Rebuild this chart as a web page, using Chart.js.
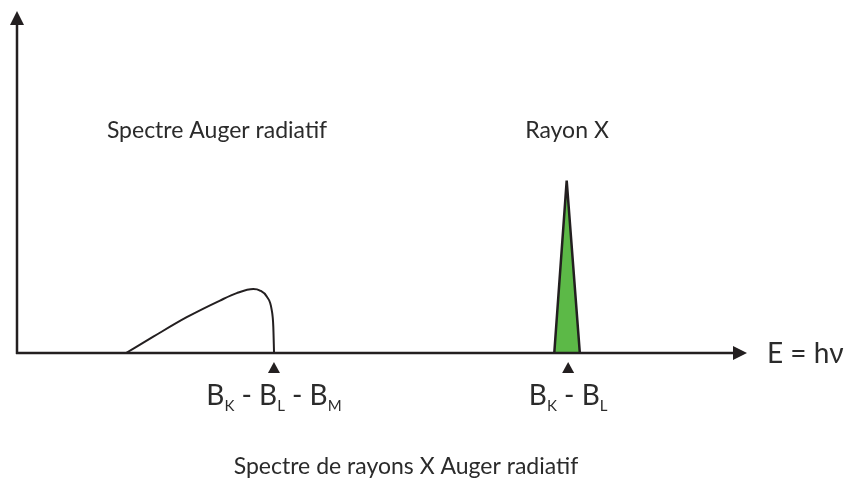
<!DOCTYPE html>
<html>
<head>
<meta charset="utf-8">
<script src="https://cdn.jsdelivr.net/npm/chart.js@4"></script>
<style>
  html, body { margin: 0; padding: 0; background: #ffffff; }
  #wrap { width: 857px; height: 486px; }
</style>
</head>
<body>
<div id="wrap"><canvas id="chart" width="857" height="486"></canvas></div>
<script>
// energie (unites arbitraires) et intensite
const augerEnergy = [14.93, 18.67, 23.25, 27.81, 30.1, 32.37, 33.29, 34.21, 34.89, 35.11, 35.21];
const augerIntensity = [0, 4.78, 10.47, 15.34, 17.5, 18.68, 18.27, 16.51, 12.61, 7.71, 0];
const xrayEnergy = [73.6, 75.3, 77.1];
const xrayIntensity = [0, 50.4, 0];
const markerEnergy = [35.2, 75.5];
const markerLabels = [
    [["B", ""], ["K", "sub"], [" - B", ""], ["L", "sub"], [" - B", ""], ["M", "sub"]],
    [["B", ""], ["K", "sub"], [" - B", ""], ["L", "sub"]],
];
const titleAuger = "Spectre Auger radiatif";
const titleXray = "Rayon X";
const axisLabel = "E = h\u03bd";
const caption = "Spectre de rayons X Auger radiatif";

const ink = "#231f20";
const textColor = "#2b2b2b";
const fontFamily = "Lato, 'Open Sans', sans-serif";

function toPoints(xs, ys) {
    return xs.map((x, i) => ({ x: x, y: ys[i] }));
}

function drawRich(ctx, parts, cx, baseline, size) {
    const subSize = Math.round(size * 0.55);
    let total = 0;
    parts.forEach(([t, kind]) => {
        ctx.font = (kind === "sub" ? subSize : size) + "px " + fontFamily;
        total += ctx.measureText(t).width;
    });
    let x = cx - total / 2;
    ctx.textAlign = "left";
    ctx.textBaseline = "alphabetic";
    parts.forEach(([t, kind]) => {
        const s = kind === "sub" ? subSize : size;
        ctx.font = s + "px " + fontFamily;
        ctx.fillText(t, x, kind === "sub" ? baseline + size * 0.2 : baseline);
        x += ctx.measureText(t).width;
    });
}

const decorations = {
    id: "decorations",
    afterDatasetsDraw(chart) {
        const ctx = chart.ctx;
        const xs = chart.scales.x;
        const ys = chart.scales.y;
        const area = chart.chartArea;
        const x0 = xs.getPixelForValue(0);
        const y0 = ys.getPixelForValue(0);
        ctx.save();
        ctx.strokeStyle = ink;
        ctx.fillStyle = ink;
        ctx.lineWidth = 2.5;

        // axe vertical
        ctx.beginPath();
        ctx.moveTo(x0, y0 + 1);
        ctx.lineTo(x0, area.top + 10);
        ctx.stroke();
        ctx.beginPath();
        ctx.moveTo(x0, area.top);
        ctx.lineTo(x0 - 7, area.top + 14);
        ctx.lineTo(x0 + 7, area.top + 14);
        ctx.closePath();
        ctx.fill();

        // axe horizontal
        ctx.beginPath();
        ctx.moveTo(x0 - 1, y0);
        ctx.lineTo(area.right - 10, y0);
        ctx.stroke();
        ctx.beginPath();
        ctx.moveTo(area.right, y0);
        ctx.lineTo(area.right - 14, y0 - 7);
        ctx.lineTo(area.right - 14, y0 + 7);
        ctx.closePath();
        ctx.fill();

        // petits triangles sous l'axe
        markerEnergy.forEach((e) => {
            const px = xs.getPixelForValue(e);
            ctx.beginPath();
            ctx.moveTo(px, y0 + 9);
            ctx.lineTo(px - 6, y0 + 20);
            ctx.lineTo(px + 6, y0 + 20);
            ctx.closePath();
            ctx.fill();
        });

        ctx.fillStyle = textColor;
        ctx.textBaseline = "alphabetic";
        ctx.textAlign = "center";
        ctx.font = "23px " + fontFamily;
        ctx.fillText(titleAuger, 217, 138);
        ctx.fillText(titleXray, 567, 138);
        ctx.fillText(caption, 406, 474);

        ctx.textAlign = "left";
        ctx.font = "28px " + fontFamily;
        ctx.fillText(axisLabel, 767, 363);

        markerLabels.forEach((parts, i) => {
            const px = xs.getPixelForValue(markerEnergy[i]);
            drawRich(ctx, parts, px, 405, 28);
        });
        ctx.restore();
    },
};

new Chart(document.getElementById("chart"), {
    type: "line",
    data: {
        datasets: [
            {
                data: toPoints(augerEnergy, augerIntensity),
                borderColor: ink,
                borderWidth: 2,
                pointRadius: 0,
                fill: false,
                cubicInterpolationMode: "monotone",
            },
            {
                data: toPoints(xrayEnergy, xrayIntensity),
                borderColor: ink,
                borderWidth: 2.5,
                backgroundColor: "#5cb947",
                pointRadius: 0,
                fill: "origin",
                tension: 0,
            },
        ],
    },
    plugins: [decorations],
    options: {
        responsive: false,
        animation: false,
        layout: { padding: { left: 17, right: 110, top: 11, bottom: 133 } },
        scales: {
            x: { type: "linear", min: 0, max: 100, display: false },
            y: { min: 0, max: 100, display: false },
        },
        plugins: {
            legend: { display: false },
            tooltip: { enabled: false },
        },
    },
});
</script>
</body>
</html>
